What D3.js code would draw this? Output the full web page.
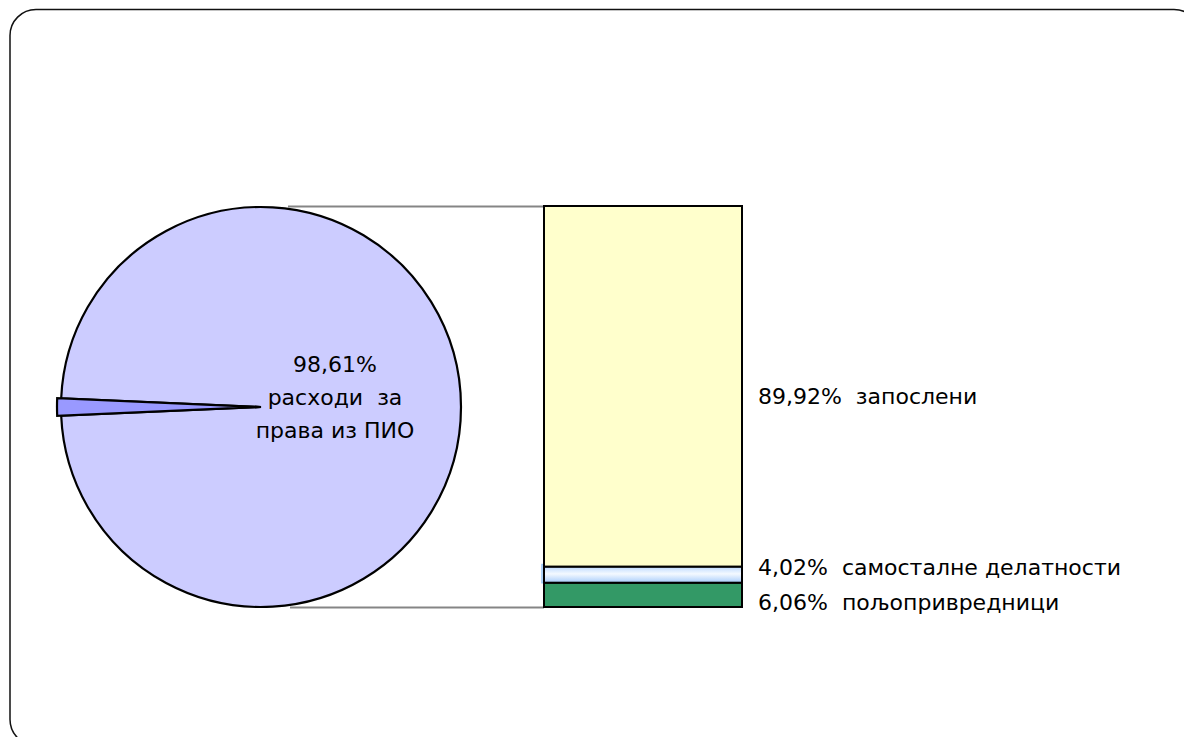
<!DOCTYPE html>
<html>
<head>
<meta charset="utf-8">
<script src="https://cdn.jsdelivr.net/npm/d3@7"></script>
<style>
  html, body { margin: 0; padding: 0; background: #fff; overflow: hidden; }
  svg { display: block; }
  text { font-family: "DejaVu Sans", Verdana, sans-serif; font-size: 22px; fill: #000; white-space: pre; }
</style>
</head>
<body>
<script>
// ---- data ----
const pieCategories = ["расходи  за права из ПИО", "остало"];
const pieValues = [98.61, 1.39];
const pieLabelText = ["расходи  за", "права из ПИО"];
const barCategories = ["пољопривредници", "самосталне делатности", "запослени"];
const barValues = [6.06, 4.02, 89.92];

// ---- layout ----
const W = 1184, H = 737;
const svg = d3.select("body").append("svg").attr("width", W).attr("height", H);

// frame
svg.append("rect")
  .attr("x", 10).attr("y", 9.5).attr("width", 1190).attr("height", 736)
  .attr("rx", 26).attr("ry", 26)
  .attr("fill", "#fff").attr("stroke", "#111").attr("stroke-width", 1.5);

const fmt = v => d3.format(".2f")(v).replace(".", ",") + "%";

// pie
const cx = 261, cy = 407, R = 200;
const pieColors = ["#ccccff", "#9999ff"];
const smallHalf = Math.PI * pieValues[1] / 100;
const pie = d3.pie().sort(null)
  .startAngle(-Math.PI / 2 + smallHalf)
  .endAngle(-Math.PI / 2 + smallHalf + 2 * Math.PI);
const arcs = pie(pieValues);
const arcMain = d3.arc().innerRadius(0).outerRadius(R);
const arcSmall = d3.arc().innerRadius(0).outerRadius(R + 4);

// bar
const barX0 = 544, barX1 = 742;
const y = d3.scaleLinear().domain([0, 100]).range([607, 206]);

// connector lines (pie top/bottom to bar top/bottom)
svg.append("g").selectAll("line").data([100, 0]).join("line")
  .attr("x1", (d, i) => cx + (i === 0 ? 27 : 29))
  .attr("x2", barX0)
  .attr("y1", d => y(d) + 0.5).attr("y2", d => y(d) + 0.5)
  .attr("stroke", "#858585").attr("stroke-width", 2);

const gp = svg.append("g").attr("transform", `translate(${cx},${cy})`);
gp.append("path").datum(arcs[0]).attr("d", arcMain)
  .attr("fill", pieColors[0]).attr("stroke", "#000").attr("stroke-width", 2.2);
gp.append("path").datum(arcs[1]).attr("d", arcSmall)
  .attr("fill", pieColors[1]).attr("stroke", "#000").attr("stroke-width", 2.2)
  .attr("stroke-linejoin", "miter");

// pie label
const pl = svg.append("text").attr("text-anchor", "middle");
[fmt(pieValues[0]), ...pieLabelText].forEach((t, i) => {
  pl.append("tspan").attr("x", cx + 74).attr("y", cy - 35 + i * 33).text(t);
});

// gradient for middle segment
const defs = svg.append("defs");
const g = defs.append("linearGradient").attr("id", "blueGrad")
  .attr("x1", 0).attr("y1", 0).attr("x2", 0).attr("y2", 1);
g.append("stop").attr("offset", "0%").attr("stop-color", "#bcd9ff");
g.append("stop").attr("offset", "45%").attr("stop-color", "#f4f9ff");
g.append("stop").attr("offset", "100%").attr("stop-color", "#a9cdfb");

const stacked = [];
let acc = 0;
barValues.forEach((v, i) => { stacked.push({ cat: barCategories[i], v, y0: acc, y1: acc + v }); acc += v; });
const barFill = ["#339966", "url(#blueGrad)", "#ffffcc"];

const gb = svg.append("g");
// light blue highlight outline for middle segment
gb.append("rect")
  .attr("x", barX0 - 2).attr("y", y(stacked[1].y1) - 2)
  .attr("width", barX1 - barX0 + 2).attr("height", y(stacked[1].y0) - y(stacked[1].y1) + 2)
  .attr("fill", "none").attr("stroke", "#9cc8f5").attr("stroke-width", 1.6);

gb.selectAll("rect.seg").data(stacked).join("rect").attr("class", "seg")
  .attr("x", barX0)
  .attr("y", d => y(d.y1))
  .attr("width", barX1 - barX0)
  .attr("height", d => y(d.y0) - y(d.y1))
  .attr("fill", (d, i) => barFill[i])
  .attr("stroke", "#000").attr("stroke-width", 2);

// bar labels
const labelDy = [7, -8, 10];
svg.append("g").selectAll("text").data(stacked).join("text")
  .attr("x", 758)
  .attr("y", (d, i) => (y(d.y0) + y(d.y1)) / 2 + labelDy[i])
  .attr("dy", "0.36em")
  .text(d => fmt(d.v) + "  " + d.cat);
</script>
</body>
</html>
